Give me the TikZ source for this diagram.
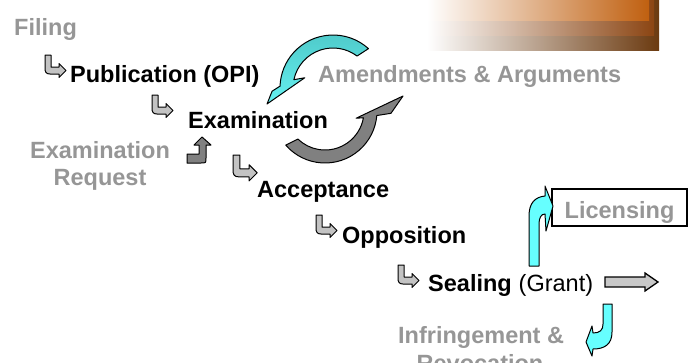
\documentclass[tikz,border=0pt]{standalone}
\usepackage{fontspec}
\setmainfont{Liberation Sans}
\usetikzlibrary{calc}
\definecolor{txtgray}{RGB}{150,150,150}
\definecolor{lightarr}{RGB}{195,195,195}
\definecolor{darkarr}{RGB}{128,128,128}
\definecolor{cyanarr}{RGB}{102,255,255}
\definecolor{tealtop}{RGB}{78,200,200}
\definecolor{tealbot}{RGB}{100,240,240}
\definecolor{orng}{RGB}{192,96,16}
\definecolor{brwn}{RGB}{139,69,19}
\definecolor{dbrwn}{RGB}{107,58,16}
\tikzset{
  lbl/.style={inner sep=0pt, anchor=base west, font=\fontsize{23.5}{28}\selectfont\bfseries},
  lblc/.style={lbl, anchor=base},
  outl/.style={draw=black, line width=1pt, line join=round},
  bentarr/.pic={
    \path[outl, fill=lightarr] (0,0) -- (6,0) -- (6,12) -- (14,12) -- (14,8.5) -- (21,15.5)
      -- (14,22.5) -- (14,19) -- (5,19) .. controls (1,19) and (0,17) .. (0,13) -- cycle;
  }
}
\begin{document}
\begin{tikzpicture}[x=1pt,y=-1pt]
\useasboundingbox (0,0) rectangle (692,362);
\clip (0,0) rectangle (692,362);
% gradient banner
\shade[left color=white, middle color={rgb,255:red,200;green,194;blue,190}, right color=dbrwn] (427,0) rectangle (659,50);
\shade[left color=white, middle color={rgb,255:red,215;green,200;blue,195}, right color=brwn] (427,0) rectangle (654,35);
\shade[left color=white, middle color={rgb,255:red,232;green,205;blue,195}, right color=orng] (427,0) rectangle (649,20);

% texts
\node[lbl, text=txtgray] (filing) at (14,35) {Filing};
\node[lbl] (pub) at (70,82) {Publication (OPI)};
\node[lbl, text=txtgray] (amend) at (318,82) {Amendments \& Arguments};
\node[lbl] (exam) at (188,128) {Examination};
\node[lblc, text=txtgray] (examreqa) at (100,158) {Examination};
\node[lblc, text=txtgray] (examreqb) at (100,185) {Request};
\node[lbl] (accept) at (257,197) {Acceptance};
\node[lbl] (oppo) at (342,243) {Opposition};
\node[lbl] (seal) at (428,291) {Sealing};
\node[lbl, font=\fontsize{23.5}{28}\selectfont] (grant) at ([xshift=6.5pt]seal.base east) {(Grant)};
\node[draw=black, line width=1.3pt, fill=white, inner sep=0pt, minimum width=135pt,
      text height=29pt, text depth=8pt, anchor=base, text=txtgray,
      font=\fontsize{23.5}{28}\selectfont\bfseries] (lic) at (619.5,218) {Licensing};
\node[lbl, text=txtgray] (infr) at (398,343) {Infringement \&};
\node[lblc, text=txtgray] (revoc) at (480,371) {Revocation};

% small bent arrows
\pic at (45,55) {bentarr};
\pic at (152,95) {bentarr};
\pic[scale=1.15] at (233,155) {bentarr};
\pic at (316,215) {bentarr};
\pic at (398,265) {bentarr};

% examination request arrow
\path[outl, fill=darkarr] (187,154) -- (199,154) -- (199,145) -- (194,145) -- (202,137)
  -- (211,145) -- (206,145) -- (206,158) .. controls (206,163) .. (201,163) -- (187,163) -- cycle;

% cycle arrows
\coordinate (C1) at (333,88);
\path[outl, top color=tealtop, bottom color=tealbot]
  ($(C1)+(-48:53)$) arc[start angle=-48, end angle=-178, radius=53]
  -- ($(C1)+(-183:61)$) -- (267,104) -- ($(C1)+(-160:30)$) -- ($(C1)+(-168:40)$)
  arc[start angle=-168, end angle=-53, radius=40] -- cycle;
\coordinate (C2) at (325,111);
\path[outl, fill=darkarr]
  ($(C2)+(139:52)$) arc[start angle=139, end angle=5, radius=52]
  -- ($(C2)+(2:66)$) -- (403,96) -- ($(C2)+(13:32)$) -- ($(C2)+(10:39)$)
  arc[start angle=10, end angle=134, radius=39] -- cycle;

% licensing arrow
\path[outl, fill=cyanarr] (529,266) -- (529,216) .. controls (529,203) and (535,197) .. (545,196)
  -- (545,186) -- (553,206) -- (546,231) -- (545,214) .. controls (541,214) and (539,218) .. (539,224)
  -- (539,266) -- cycle;
% infringement arrow
\path[outl, fill=cyanarr] (603,304) -- (612,304) -- (612,332) .. controls (612,344) and (605,349) .. (593,349)
  -- (592,356) -- (586,342) -- (592,326) -- (593,333) .. controls (600,333) and (603,330) .. (603,324) -- cycle;
% grant block arrow
\path[draw=black, line width=1.3pt, line join=miter, fill={rgb,255:red,200;green,200;blue,200}]
  (605,277) -- (645,277) -- (645,273) -- (658,282) -- (645,291) -- (645,287) -- (605,287) -- cycle;
\end{tikzpicture}
\end{document}
